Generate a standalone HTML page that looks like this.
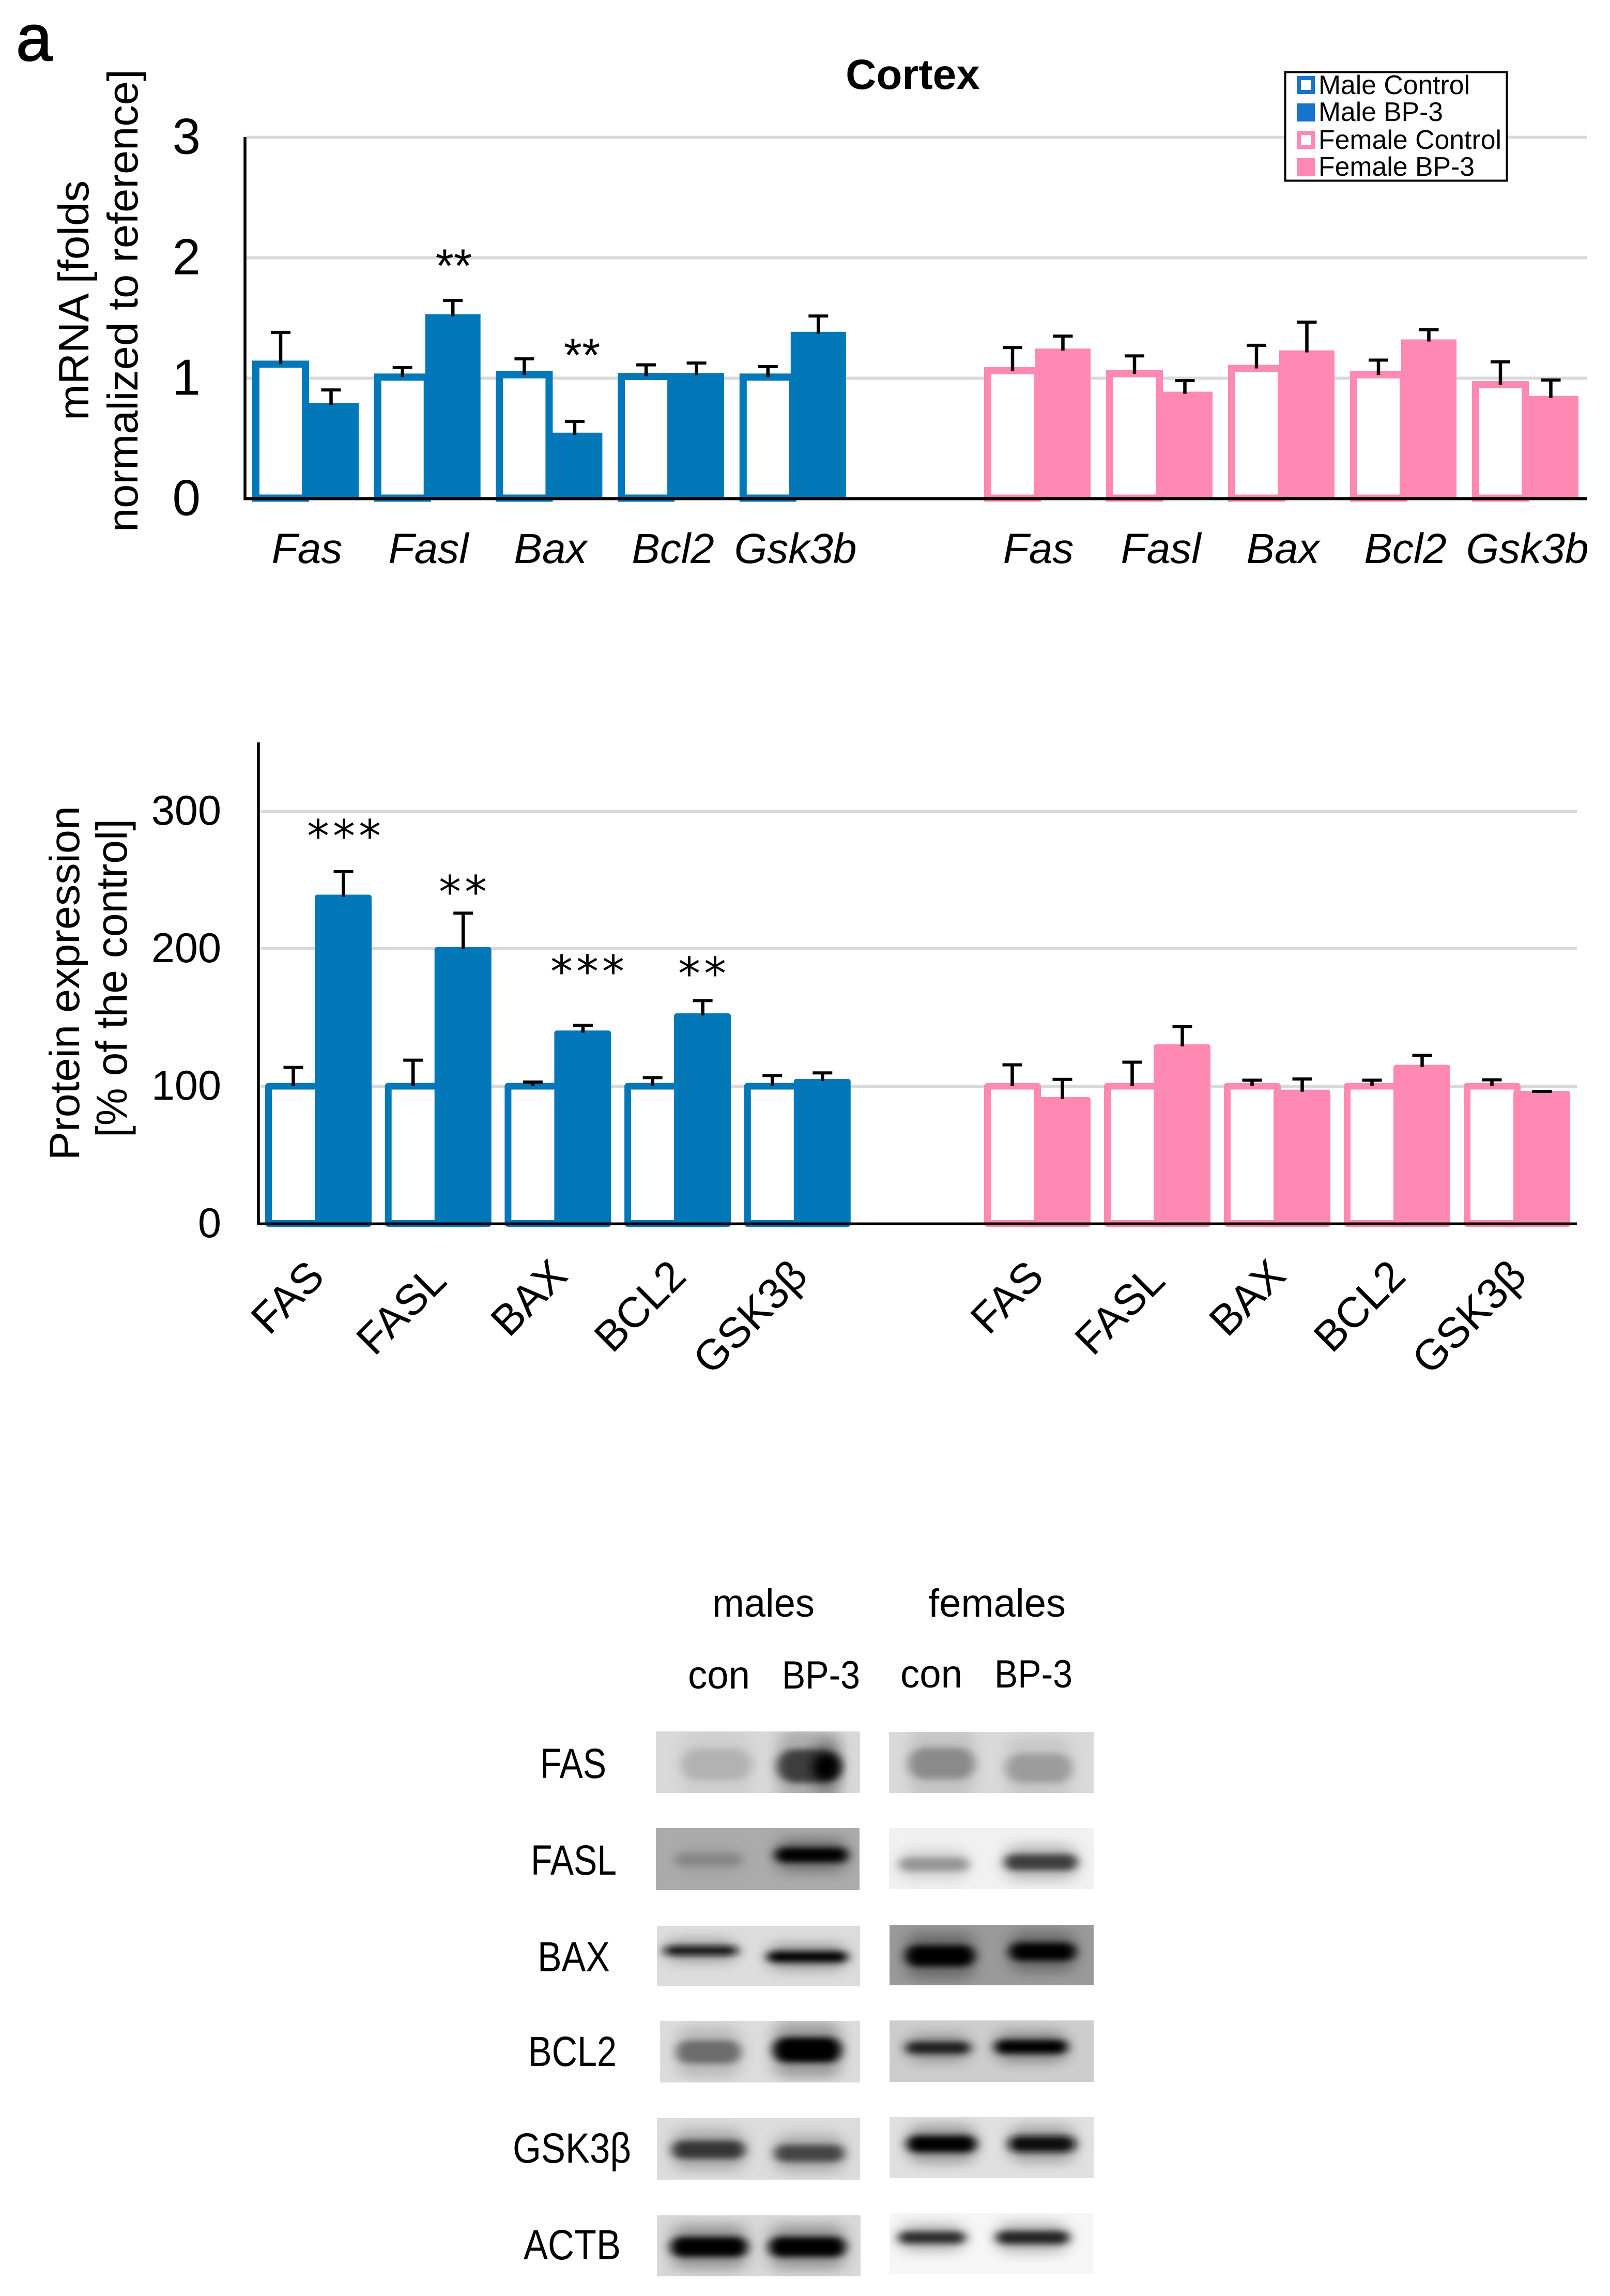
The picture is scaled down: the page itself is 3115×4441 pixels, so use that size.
<!DOCTYPE html>
<html lang="en">
<head>
<meta charset="utf-8">
<title>Cortex mRNA and protein expression</title>
<style>
html,body{margin:0;padding:0;background:#fff;}
svg{display:block;}
text{font-family:"Liberation Sans",sans-serif;fill:#000;}
</style>
</head>
<body>
<svg id="figure" xmlns="http://www.w3.org/2000/svg" width="3115" height="4441" viewBox="0 0 3115 4441">
  <defs>
    <filter id="band-blur" x="-40%" y="-150%" width="180%" height="400%"><feGaussianBlur stdDeviation="10 6"/></filter>
    <filter id="halo-blur" x="-40%" y="-150%" width="180%" height="400%"><feGaussianBlur stdDeviation="15 11"/></filter>
  </defs>
  <rect x="0" y="0" width="3115" height="4441" fill="#fff"/>
  <text x="31" y="117" font-size="126" stroke="#000" stroke-width="2">a</text>
  <text x="1766" y="172" font-size="82" font-weight="bold" text-anchor="middle">Cortex</text>

  <text transform="translate(171,581) rotate(-90)" text-anchor="middle" font-size="83" textLength="464" lengthAdjust="spacingAndGlyphs">mRNA [folds</text>
  <text transform="translate(266,581.5) rotate(-90)" text-anchor="middle" font-size="83" textLength="895" lengthAdjust="spacingAndGlyphs">normalized to reference]</text>
  <text transform="translate(153,1901.5) rotate(-90)" text-anchor="middle" font-size="82" textLength="685" lengthAdjust="spacingAndGlyphs">Protein expression</text>
  <text transform="translate(245,1892) rotate(-90)" text-anchor="middle" font-size="84" textLength="616" lengthAdjust="spacingAndGlyphs">[% of the control]</text>

  <g id="mrna-chart"></g>
  <g id="protein-chart"></g>

  <g>
    <rect x="2486.5" y="139.5" width="429" height="210" fill="#fff" stroke="#000" stroke-width="4"/>
    <rect x="2513" y="151" width="27" height="27" fill="#fff" stroke="#1873cc" stroke-width="8"/>
    <text x="2551" y="182" font-size="52" textLength="293" lengthAdjust="spacingAndGlyphs">Male Control</text>
    <rect x="2509" y="200" width="35" height="35" fill="#1873cc"/>
    <text x="2551" y="234" font-size="52" textLength="241" lengthAdjust="spacingAndGlyphs">Male BP-3</text>
    <rect x="2513" y="257" width="27" height="27" fill="#fff" stroke="#ff89b2" stroke-width="8"/>
    <text x="2551" y="288" font-size="52" textLength="354" lengthAdjust="spacingAndGlyphs">Female Control</text>
    <rect x="2509" y="306" width="35" height="35" fill="#ff89b2"/>
    <text x="2551" y="340" font-size="52" textLength="302" lengthAdjust="spacingAndGlyphs">Female BP-3</text>
  </g>

  <g>
    <text x="1378" y="3127" font-size="76" textLength="198" lengthAdjust="spacingAndGlyphs">males</text>
    <text x="1796" y="3127" font-size="76" textLength="266" lengthAdjust="spacingAndGlyphs">females</text>
    <text x="1331" y="3266" font-size="76" textLength="120" lengthAdjust="spacingAndGlyphs">con</text>
    <text x="1513" y="3266" font-size="76" textLength="151" lengthAdjust="spacingAndGlyphs">BP-3</text>
    <text x="1742" y="3264" font-size="76" textLength="120" lengthAdjust="spacingAndGlyphs">con</text>
    <text x="1924" y="3264" font-size="76" textLength="151" lengthAdjust="spacingAndGlyphs">BP-3</text>
  </g>
  <g>
    <text x="1045" y="3439" font-size="82" textLength="128" lengthAdjust="spacingAndGlyphs">FAS</text>
    <text x="1027" y="3626" font-size="82" textLength="166" lengthAdjust="spacingAndGlyphs">FASL</text>
    <text x="1040" y="3813" font-size="82" textLength="140" lengthAdjust="spacingAndGlyphs">BAX</text>
    <text x="1022" y="3996" font-size="82" textLength="171" lengthAdjust="spacingAndGlyphs">BCL2</text>
    <text x="992" y="4183" font-size="82" textLength="229" lengthAdjust="spacingAndGlyphs">GSK3β</text>
    <text x="1013" y="4370" font-size="82" textLength="188" lengthAdjust="spacingAndGlyphs">ACTB</text>
  </g>
  <g id="blots"></g>
</svg>
<script>
// ---- mRNA chart data ----
const mrnaCategories = ["Fas", "Fasl", "Bax", "Bcl2", "Gsk3b"];
const mrnaTicks = [0, 1, 2, 3];
const mrnaMaleControl = [1.116, 1.009, 1.028, 1.015, 1.009];
const mrnaMaleControlErr = [0.275, 0.09, 0.143, 0.106, 0.099];
const mrnaMaleBp3 = [0.793, 1.53, 0.548, 1.042, 1.385];
const mrnaMaleBp3Err = [0.12, 0.126, 0.104, 0.094, 0.142];
const mrnaFemaleControl = [1.062, 1.037, 1.081, 1.028, 0.946];
const mrnaFemaleControlErr = [0.203, 0.159, 0.203, 0.133, 0.2];
const mrnaFemaleBp3 = [1.246, 0.888, 1.231, 1.322, 0.853];
const mrnaFemaleBp3Err = [0.114, 0.103, 0.245, 0.091, 0.142];

// ---- protein chart data ----
const proteinCategories = ["FAS", "FASL", "BAX", "BCL2", "GSK3β"];
const proteinTicks = [0, 100, 200, 300];
const proteinMaleControl = [100, 100, 100, 100, 100];
const proteinMaleControlErr = [14.6, 19.9, 4, 7.2, 8.7];
const proteinMaleBp3 = [239.3, 201.2, 140.5, 153, 105.3];
const proteinMaleBp3Err = [17.7, 25.6, 4.7, 10.2, 5.3];
const proteinFemaleControl = [100, 100, 100, 100, 100];
const proteinFemaleControlErr = [16.5, 18.4, 5.3, 5.3, 5.6];
const proteinFemaleBp3 = [92.2, 130.5, 97.5, 115.6, 96.6];
const proteinFemaleBp3Err = [13.7, 13.7, 8.7, 7.8, 0.6];

const BLUE = "#0378b9";
const PINK = "#ff89b2";
const NS = "http://www.w3.org/2000/svg";

function make(tag, attrs, parent) {
  const el = document.createElementNS(NS, tag);
  for (const k in attrs) el.setAttribute(k, attrs[k]);
  parent.appendChild(el);
  return el;
}

// axis functions
function mrnaY(v) { return 964.5 - v * 233; }
function proteinY(v) { return 2367 - v * 2.66; }

function drawGrid(parent, ticks, yFn, x1, x2, prefix) {
  ticks.forEach(function (t) {
    if (t === 0) return;
    const line = make("line", { x1: x1, x2: x2, y1: yFn(t), y2: yFn(t), stroke: "#d9d9d9", "stroke-width": 6 }, parent);
    
    
  });
}

function drawTicks(parent, ticks, yFn, x, size, dy, prefix) {
  ticks.forEach(function (t) {
    const label = make("text", { x: x, y: yFn(t) + dy, "font-size": size, "text-anchor": "end" }, parent);
    label.textContent = t;
    
    
  });
}

function drawError(parent, cx, yBase, yTop, capW, name) {
  const g = make("g", {}, parent);
  
  
  make("line", { x1: cx, x2: cx, y1: yBase, y2: yTop, stroke: "#000", "stroke-width": 6.5 }, g);
  make("line", { x1: cx - capW / 2, x2: cx + capW / 2, y1: yTop + 2.5, y2: yTop + 2.5, stroke: "#000", "stroke-width": 6 }, g);
}

function drawSeries(parent, s) {
  s.control.forEach(function (_, i) {
    const L = s.startX + i * s.pitch;
    const yc = s.y(s.control[i]);
    const yb = s.y(s.bp3[i]);
    const ctl = make("rect", {
      x: L + s.sw / 2, y: yc, width: s.outerW - s.sw, height: s.ctrlBottom - yc,
      fill: "#fff", stroke: s.color, "stroke-width": s.sw, "stroke-linejoin": s.join
    }, parent);
    
    
    const fil = make("rect", {
      x: L + s.fillOffset, y: yb, width: s.fillW, height: s.fillBottom - yb,
      fill: s.color, rx: s.rx
    }, parent);
    
    
  });
  s.control.forEach(function (_, i) {
    const L = s.startX + i * s.pitch;
    drawError(parent, L + s.ctrlCx, s.y(s.control[i]), s.y(s.control[i] + s.controlErr[i]), s.cap, s.prefix + '-control-error-' + s.cats[i]);
    drawError(parent, L + s.fillCx, s.y(s.bp3[i]) + 4, s.y(s.bp3[i] + s.bp3Err[i]), s.cap, s.prefix + '-bp3-error-' + s.cats[i]);
  });
}

function drawStars(parent, items, size, family, spacing, prefix) {
  items.forEach(function (it, i) {
    const t = make("text", { x: it[0], y: it[1], "font-size": size, "text-anchor": "middle", "letter-spacing": spacing, style: "font-family:" + family }, parent);
    t.textContent = it[2];
    
    
  });
}

// ---- mRNA chart ----
(function () {
  const g = document.getElementById("mrna-chart");
  drawGrid(g, mrnaTicks, mrnaY, 476, 3071, 'mrna');
  drawTicks(g, mrnaTicks, mrnaY, 388, 98, 32, 'mrna');
  const common = { y: mrnaY, cats: mrnaCategories, outerW: 110, sw: 14, join: "miter", ctrlBottom: 963.5, fillBottom: 966, fillOffset: 99, fillW: 107, rx: 0, ctrlCx: 55, fillCx: 152.5, cap: 38 };
  drawSeries(g, Object.assign({}, common, { prefix: 'mrna-male', color: BLUE, startX: 488, pitch: 235.7, control: mrnaMaleControl, controlErr: mrnaMaleControlErr, bp3: mrnaMaleBp3, bp3Err: mrnaMaleBp3Err }));
  drawSeries(g, Object.assign({}, common, { prefix: 'mrna-female', color: PINK, startX: 1904, pitch: 236, control: mrnaFemaleControl, controlErr: mrnaFemaleControlErr, bp3: mrnaFemaleBp3, bp3Err: mrnaFemaleBp3Err }));
  const yAxis = make("line", { x1: 474, x2: 474, y1: 265, y2: 967, stroke: "#000", "stroke-width": 5.5 }, g);
  
  
  const xAxis = make("line", { x1: 472, x2: 3071, y1: 964.5, y2: 964.5, stroke: "#000", "stroke-width": 6 }, g);
  
  
  [594, 829, 1065, 1302, 1539].forEach(function (cx, i) {
    const t = make("text", { x: cx, y: 1089, "font-size": 82, "font-style": "italic", "text-anchor": "middle" }, g);
    t.textContent = mrnaCategories[i];
    
    
  });
  [2009, 2246, 2482, 2719, 2955].forEach(function (cx, i) {
    const t = make("text", { x: cx, y: 1089, "font-size": 82, "font-style": "italic", "text-anchor": "middle" }, g);
    t.textContent = mrnaCategories[i];
    
    
  });
  drawStars(g, [[878, 545, "**"], [1126, 718, "**"]], 91, '"Liberation Sans",sans-serif', 0, 'mrna');
})();

// ---- protein chart ----
(function () {
  const g = document.getElementById("protein-chart");
  drawGrid(g, proteinTicks, proteinY, 504, 3051, 'protein');
  drawTicks(g, proteinTicks, proteinY, 428, 81, 26, 'protein');
  const common = { y: proteinY, cats: proteinCategories, outerW: 110, sw: 13, join: "round", ctrlBottom: 2366.5, fillBottom: 2373, fillOffset: 96, fillW: 110, rx: 5, ctrlCx: 54.5, fillCx: 151.5, cap: 38 };
  drawSeries(g, Object.assign({}, common, { prefix: 'protein-male', color: BLUE, startX: 513, pitch: 231.7, control: proteinMaleControl, controlErr: proteinMaleControlErr, bp3: proteinMaleBp3, bp3Err: proteinMaleBp3Err }));
  drawSeries(g, Object.assign({}, common, { prefix: 'protein-female', color: PINK, startX: 1904, pitch: 232, control: proteinFemaleControl, controlErr: proteinFemaleControlErr, bp3: proteinFemaleBp3, bp3Err: proteinFemaleBp3Err }));
  const yAxis = make("line", { x1: 500, x2: 500, y1: 1436, y2: 2369, stroke: "#000", "stroke-width": 5.5 }, g);
  
  
  const xAxis = make("line", { x1: 498, x2: 3051, y1: 2367, y2: 2367, stroke: "#000", "stroke-width": 5 }, g);
  
  
  const labelCentersY = [2508, 2532, 2509, 2525, 2546];
  [555, 775, 1022, 1237, 1450].forEach(function (cx, i) {
    const t = make("text", { x: 0, y: 30, "font-size": 83, "text-anchor": "middle", transform: "translate(" + cx + "," + labelCentersY[i] + ") rotate(-45)" }, g);
    t.textContent = proteinCategories[i];
    
    
  });
  [1947, 2165, 2412, 2629, 2841].forEach(function (cx, i) {
    const t = make("text", { x: 0, y: 30, "font-size": 83, "text-anchor": "middle", transform: "translate(" + cx + "," + labelCentersY[i] + ") rotate(-45)" }, g);
    t.textContent = proteinCategories[i];
    
    
  });
  drawStars(g, [[669, 1647, "***"], [899, 1755, "**"], [1140, 1909, "***"], [1362, 1913, "**"]], 86, '"DejaVu Sans",sans-serif', 7, 'protein');
})();

// ---- western blot panels (image-like decoration, not plotted data) ----
const blotPanels = [
  ["fas-male", 1269, 3349, 395, 119, "#d9d9d9", [[1386, 3413, 66, 28, "#b2b2b2"], [1566, 3416, 60, 30, "#3c3c3c"], [1598, 3418, 22, 22, "#000000"]]],
  ["fas-female", 1720, 3350, 396, 118, "#dadada", [[1822, 3411, 62, 28, "#8a8a8a"], [2010, 3420, 62, 26, "#9c9c9c"]]],
  ["fasl-male", 1269, 3536, 394, 120, "#ababab", [[1371, 3597, 62, 9, "#858585"], [1570, 3588, 68, 12, "#000000"]]],
  ["fasl-female", 1720, 3536, 396, 118, "#f1f1f1", [[1807, 3606, 65, 11, "#959595"], [2014, 3602, 68, 13, "#3c3c3c"]]],
  ["bax-male", 1271, 3725, 393, 117, "#dcdcdc", [[1356, 3773, 68, 6, "#101010"], [1562, 3785, 75, 8, "#000000"]]],
  ["bax-female", 1721, 3723, 395, 117, "#9a9a9a", [[1819, 3783, 65, 18, "#000000"], [2017, 3775, 62, 15, "#000000"]]],
  ["bcl2-male", 1277, 3909, 387, 119, "#dcdcdc", [[1371, 3969, 60, 20, "#6c6c6c"], [1562, 3965, 64, 22, "#050505"]]],
  ["bcl2-female", 1721, 3908, 395, 119, "#cdcdcd", [[1815, 3961, 60, 9, "#1e1e1e"], [1995, 3959, 68, 11, "#000000"]]],
  ["gsk3b-male", 1271, 4097, 393, 119, "#dcdcdc", [[1371, 4158, 68, 15, "#363636"], [1566, 4165, 65, 14, "#444444"]]],
  ["gsk3b-female", 1721, 4095, 395, 118, "#e0e0e0", [[1822, 4147, 65, 14, "#060606"], [2016, 4147, 62, 13, "#0c0c0c"]]],
  ["actb-male", 1271, 4285, 394, 118, "#d8d8d8", [[1372, 4346, 72, 17, "#000000"], [1562, 4346, 72, 17, "#000000"]]],
  ["actb-female", 1721, 4281, 395, 118, "#f6f6f6", [[1803, 4328, 62, 9, "#2a2a2a"], [1998, 4328, 68, 10, "#202020"]]]
];

(function () {
  const g = document.getElementById("blots");
  blotPanels.forEach(function (p) {
    const panel = make("svg", { x: p[1], y: p[2], width: p[3], height: p[4], overflow: "hidden" }, g);
    
    
    make("rect", { x: 0, y: 0, width: p[3], height: p[4], fill: p[5] }, panel);
    p[6].forEach(function (b, i) {
      const hx = b[0] - p[1], hy = b[1] - p[2];
      const halo = b[3] * 2 + 10;
      make("rect", { x: hx - b[2], y: hy - halo, width: b[2] * 2, height: halo * 2, rx: 22, fill: b[4], opacity: 0.28, filter: "url(#halo-blur)" }, panel);
      const ry = b[3] + 2.5;
      const band = make("rect", { x: hx - b[2] - 2, y: hy - ry, width: b[2] * 2 + 4, height: ry * 2, rx: ry, fill: b[4], filter: "url(#band-blur)" }, panel);
      
      
    });
  });
})();
</script>
</body>
</html>
